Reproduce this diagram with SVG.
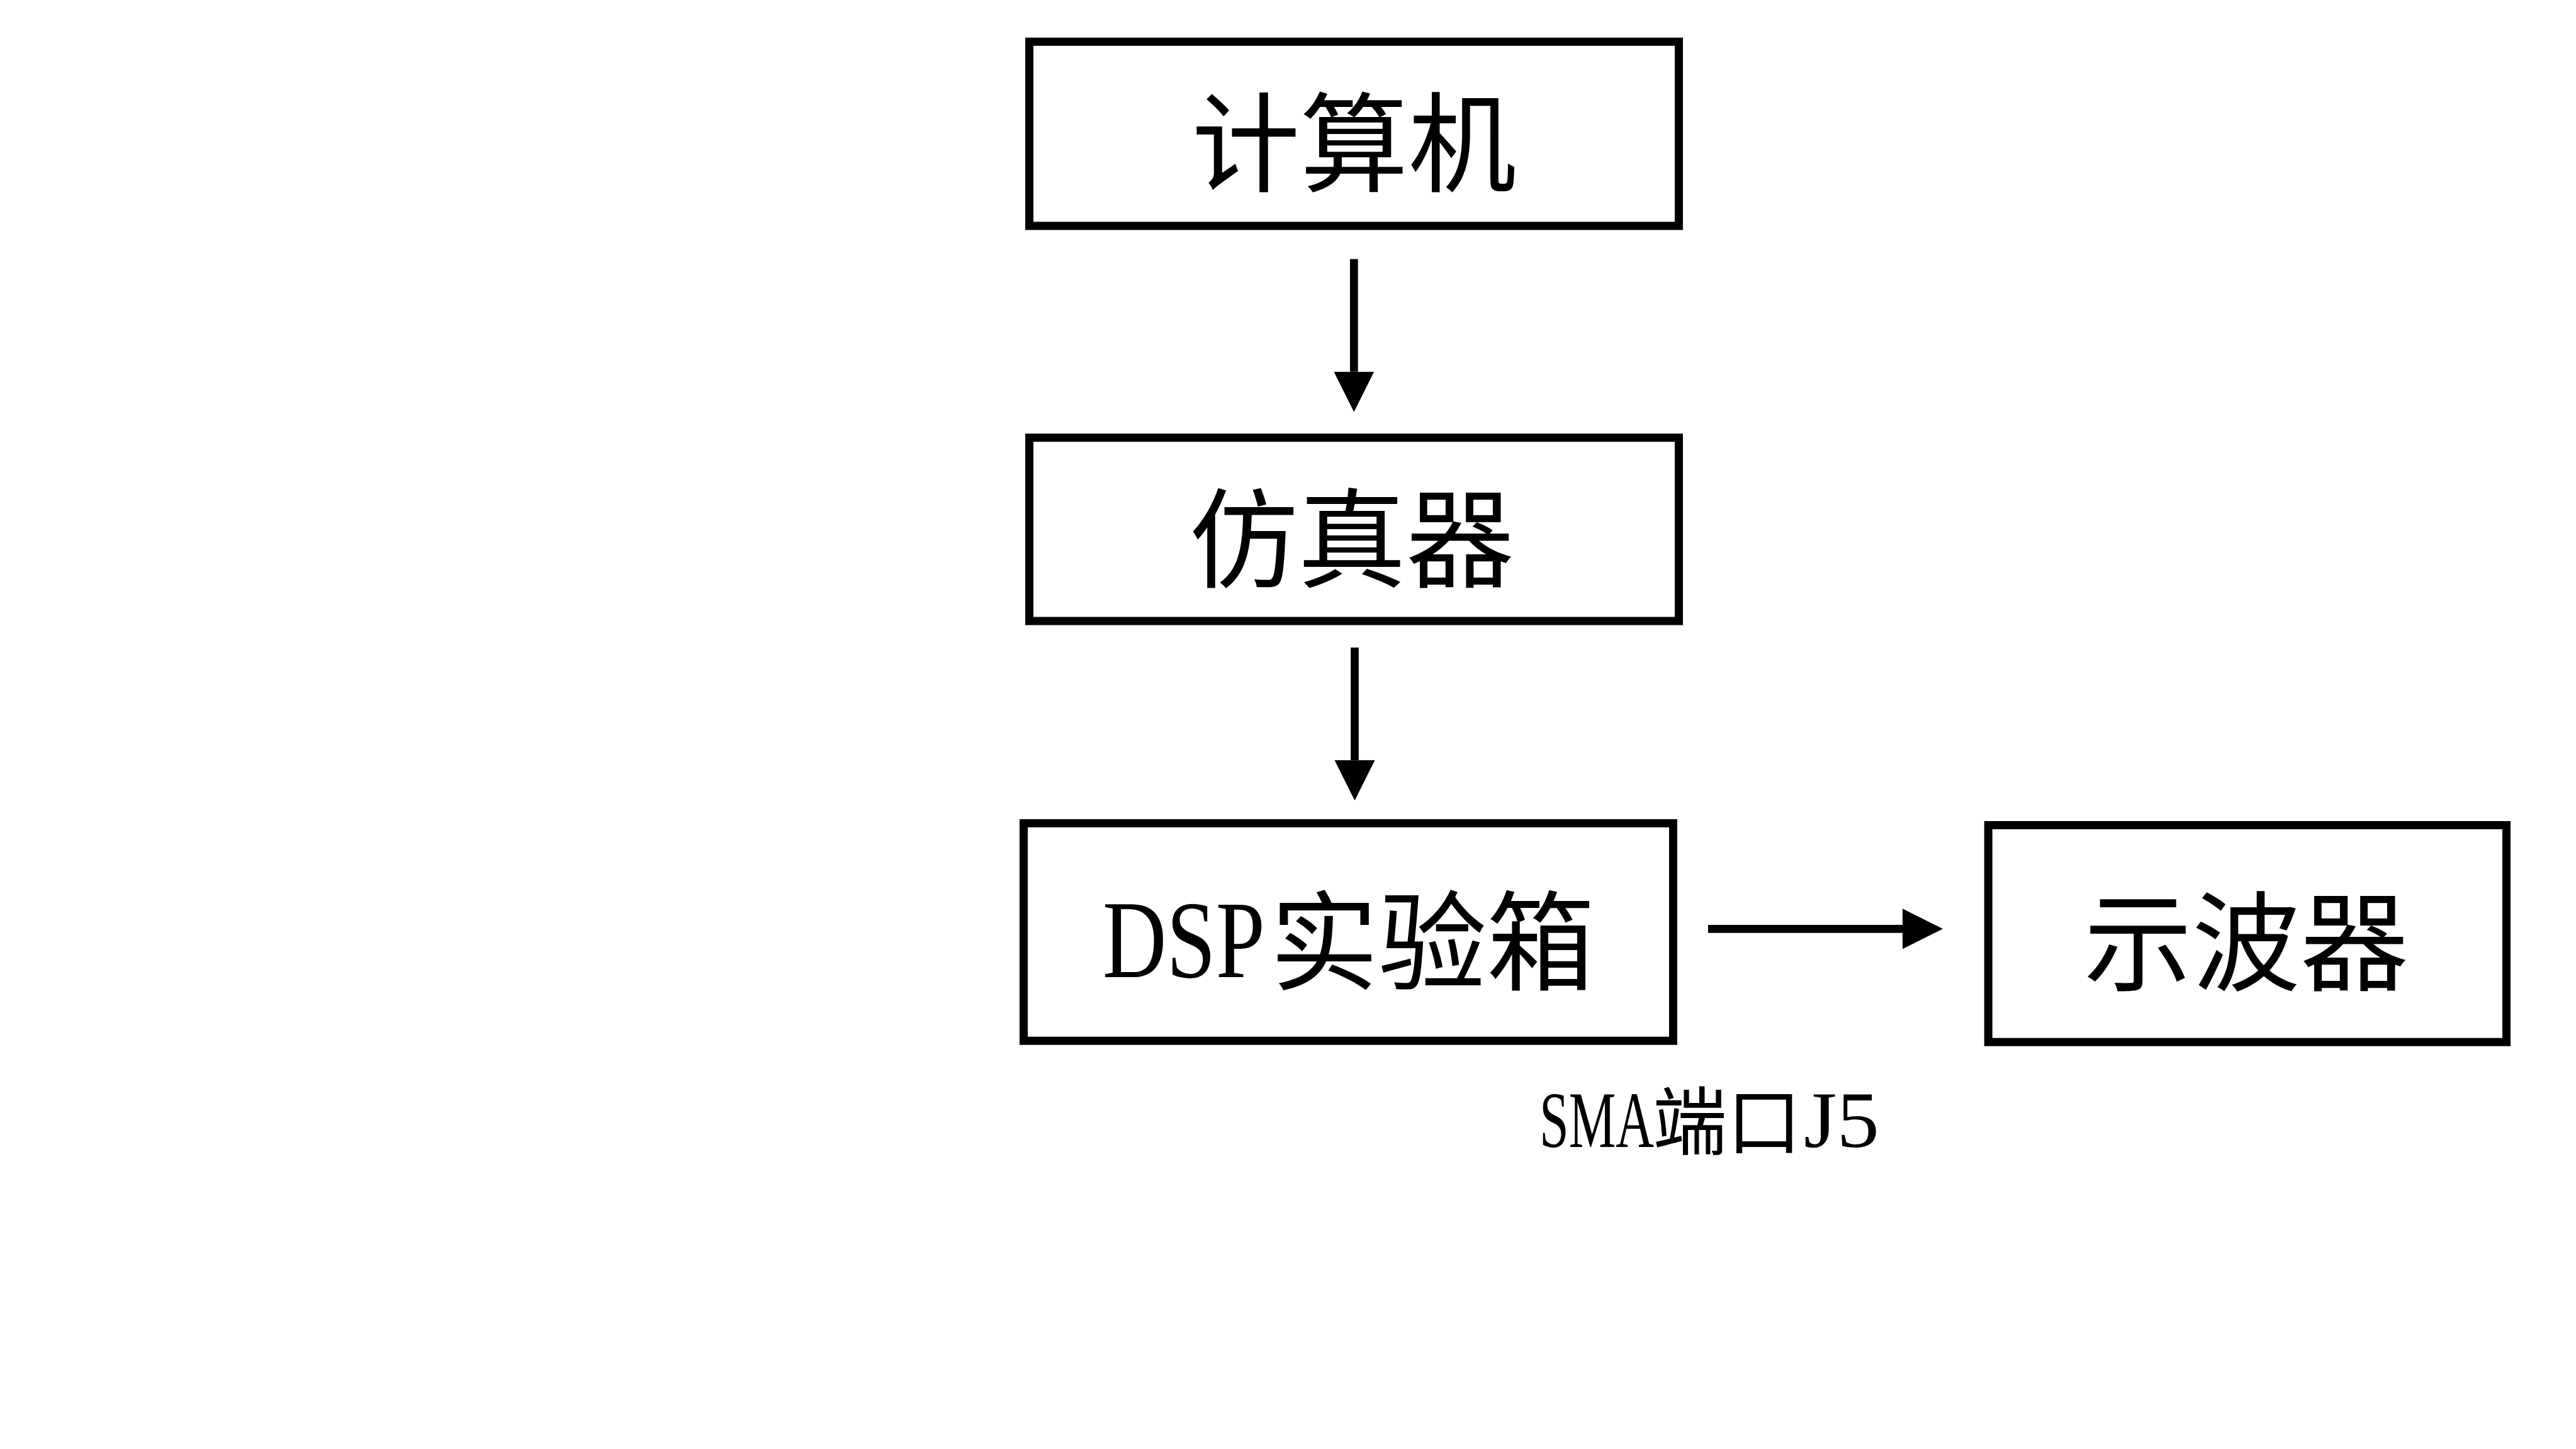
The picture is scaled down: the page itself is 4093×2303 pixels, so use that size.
<svg xmlns="http://www.w3.org/2000/svg" width="4093" height="2303" viewBox="0 0 4093 2303">
  <style>
    .frame { fill: #ffffff; stroke: #000000; stroke-width: 13; }
    .cjk { font-family: "Noto Sans CJK SC", "Noto Sans CJK TC", sans-serif; fill: #000000; }
    .lat { font-family: "Liberation Serif", "Noto Sans CJK SC", serif; fill: #000000; }
    .conn { stroke: #000000; stroke-width: 12.7; fill: none; }
  </style>
  <defs>
    <marker id="head" markerUnits="userSpaceOnUse" markerWidth="64" markerHeight="64" viewBox="0 0 64 64" refX="0" refY="32" orient="auto">
      <path d="M0,0 L64,32 L0,64 Z" fill="#000000"/>
    </marker>
  </defs>
  <rect x="0" y="0" width="4093" height="2303" fill="#ffffff"/>

  <g id="node-computer">
    <rect class="frame" x="1635.5" y="66.3" width="1032" height="292.7"/>
    <text class="cjk" x="2151.5" y="291" font-size="172" text-anchor="middle">计算机</text>
  </g>

  <g id="node-emulator">
    <rect class="frame" x="1635.5" y="695.7" width="1032" height="291.3"/>
    <text class="cjk" x="2148" y="920" font-size="172" text-anchor="middle">仿真器</text>
  </g>

  <g id="node-dsp">
    <rect class="frame" x="1626.5" y="1308.5" width="1032" height="345.7"/>
    <text><tspan class="lat" x="1752" y="1553" font-size="176" textLength="258" lengthAdjust="spacingAndGlyphs">DSP</tspan><tspan class="cjk" x="2018" y="1560" font-size="172">实验箱</tspan></text>
  </g>

  <g id="node-scope">
    <rect class="frame" x="3159.2" y="1311.5" width="823.3" height="344.7"/>
    <text class="cjk" x="3569" y="1561" font-size="172" text-anchor="middle">示波器</text>
  </g>

  <g id="connectors">
    <line class="conn" x1="2151.3" y1="411.7" x2="2151.3" y2="590.7" marker-end="url(#head)"/>
    <line class="conn" x1="2152.5" y1="1029.3" x2="2152.5" y2="1208.3" marker-end="url(#head)"/>
    <line class="conn" x1="2714" y1="1476.3" x2="3023" y2="1476.3" marker-end="url(#head)"/>
  </g>

  <g id="label-sma">
    <text><tspan class="lat" x="2446" y="1823" font-size="127" textLength="182" lengthAdjust="spacingAndGlyphs">SMA</tspan><tspan class="cjk" x="2626" y="1826" font-size="118">端口</tspan><tspan class="lat" x="2866" y="1823" font-size="127" textLength="120" lengthAdjust="spacingAndGlyphs">J5</tspan></text>
  </g>
</svg>
